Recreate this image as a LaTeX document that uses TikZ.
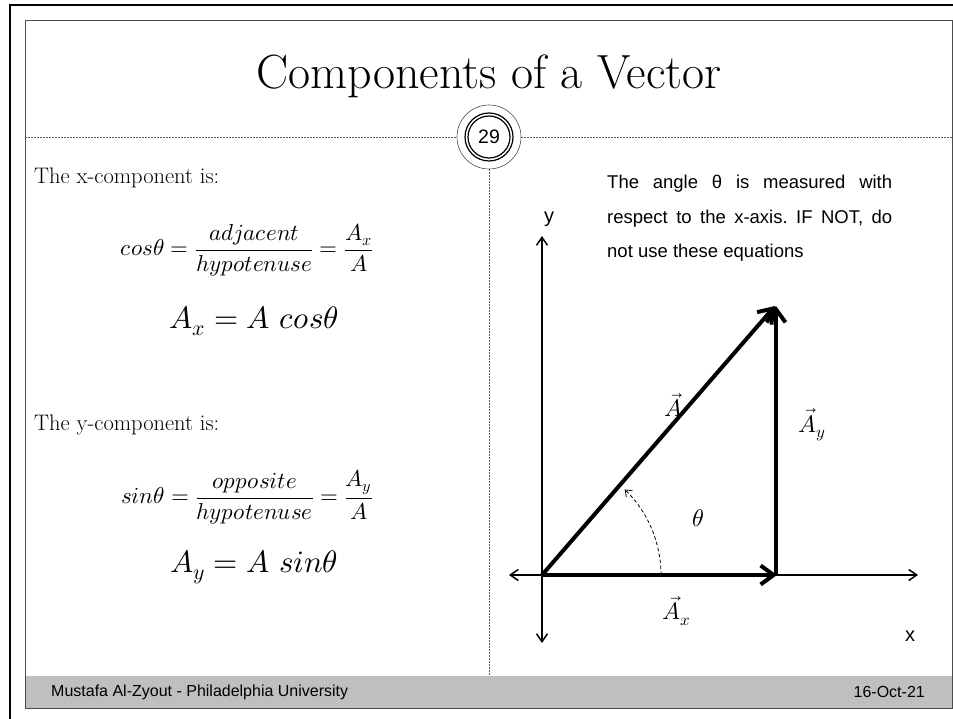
\documentclass[tikz,border=0pt]{standalone}
\usepackage{fontspec}
\usepackage{unicode-math}
\newfontfamily\arial{Liberation Sans}
\usetikzlibrary{arrows.meta}
\definecolor{framegray}{gray}{0.3}
\definecolor{dashgray}{gray}{0.35}
\definecolor{barfill}{RGB}{191,191,191}
\frenchspacing
\begin{document}
\begin{tikzpicture}[x=1pt,y=-1pt,
  outerframe/.style={line width=2.7pt,black},
  innerframe/.style={line width=0.9pt,framegray},
  sep/.style={line width=0.7pt,dashgray,dash pattern=on 2pt off 1pt},
  axisline/.style={line width=1.5pt,{Straight Barb[length=8pt,width=11pt]}-{Straight Barb[length=8pt,width=11pt]}},
  vec/.style={line width=4pt,-{Straight Barb[length=13pt,width=19pt]}},
  bodytxt/.style={anchor=west,inner sep=0pt,font=\fontsize{22.5}{27}\selectfont},
  eqtxt/.style={inner sep=0pt,font=\fontsize{23}{28}\selectfont},
  restxt/.style={inner sep=0pt,font=\fontsize{31}{36}\selectfont},
  lbl/.style={inner sep=0pt,font=\fontsize{24}{28}\selectfont},
  foot/.style={inner sep=0pt,font=\arial\fontsize{16}{19}\selectfont}]
\useasboundingbox (0,0) rectangle (953,719);
% frames
\draw[outerframe] (10,719) -- (10,5) -- (953,5);
\fill[barfill] (25,676) rectangle (952,708);
\draw[innerframe] (25,20) rectangle (952,708);
% title
\node[inner sep=0pt,font=\fontsize{48}{56}\selectfont] (title) at (489,76) {Components of a Vector};
% page number badge
\node[circle,draw=framegray,line width=0.6pt,minimum size=64pt,inner sep=0pt,fill=white] (badge) at (489,137) {};
\node[circle,draw=black,line width=1.2pt,minimum size=48pt,inner sep=0pt] (ring1) at (badge.center) {};
\node[circle,draw=black,line width=1.2pt,minimum size=42pt,inner sep=0pt,font=\arial\fontsize{19.5}{22}\selectfont] (num) at (badge.center) {29};
\coordinate (sepL) at (25,137);
\coordinate (sepR) at (952,137);
\coordinate (sepB) at (489,676);
\draw[sep] (sepL) -- (badge.west);
\draw[sep] (badge.east) -- (sepR);
\draw[sep] (badge.south) -- (sepB);
% left column
\node[bodytxt] (xc) at (34,178) {The x-component is:};
\node[eqtxt] (eq1) at (247,250) {$\displaystyle cos\theta=\frac{adjacent}{hypotenuse}=\frac{A_x}{A}$};
\node[restxt] (res1) at (254,321) {$A_x=A\ cos\theta$};
\node[bodytxt] (yc) at (34,425) {The y-component is:};
\node[eqtxt] (eq2) at (247,497) {$\displaystyle sin\theta=\frac{opposite}{hypotenuse}=\frac{A_y}{A}$};
\node[restxt] (res2) at (254,567) {$A_y=A\ sin\theta$};
% right column text
\node[anchor=north west,inner sep=0pt,text width=285pt,align=justify,font=\arial\fontsize{18.5}{34.5}\selectfont] (note) at (607,175) {The angle θ is measured with\linebreak respect to the x-axis. IF NOT, do\linebreak not use these equations};
% axes
\coordinate (O) at (542,575);
\coordinate (ytop) at (542,236);
\coordinate (ybot) at (542,643);
\coordinate (xleft) at (509,575);
\coordinate (xright) at (918,575);
\draw[axisline] (ybot) -- (ytop);
\draw[axisline] (xleft) -- (xright);
\node[font=\arial\fontsize{20}{24}\selectfont,inner sep=0pt] (ylab) at (549,219) {y};
\node[font=\arial\fontsize{20}{24}\selectfont,inner sep=0pt] (xlab) at (910,636) {x};
% vectors
\coordinate (Atip) at (775,306);
\coordinate (Axtip) at (777,575);
\coordinate (Aybase) at (776,575);
\coordinate (Aytip) at (776,306);
\draw[vec] (O) -- (Atip);
\draw[vec] (Aybase) -- (Aytip);
\draw[vec] (O) -- (Axtip);
% angle arc
\coordinate (arcstart) at (661,575);
\draw[line width=0.8pt,dash pattern=on 3.5pt off 2.5pt,-{Straight Barb[length=6pt,width=9pt]}] (arcstart) arc[start angle=0,end angle=-46,radius=119];
\node[lbl] (theta) at (698,518) {$\theta$};
\node[lbl] (Alab) at (673,405) {$\vec{A}$};
\node[lbl] (Aylab) at (812,425) {$\vec{A}_y$};
\node[lbl] (Axlab) at (677,611) {$\vec{A}_x$};
% footer
\node[foot,anchor=west] (author) at (51,692) {Mustafa Al-Zyout - Philadelphia University};
\node[foot,anchor=east] (date) at (925,692) {16-Oct-21};
\end{tikzpicture}
\end{document}
